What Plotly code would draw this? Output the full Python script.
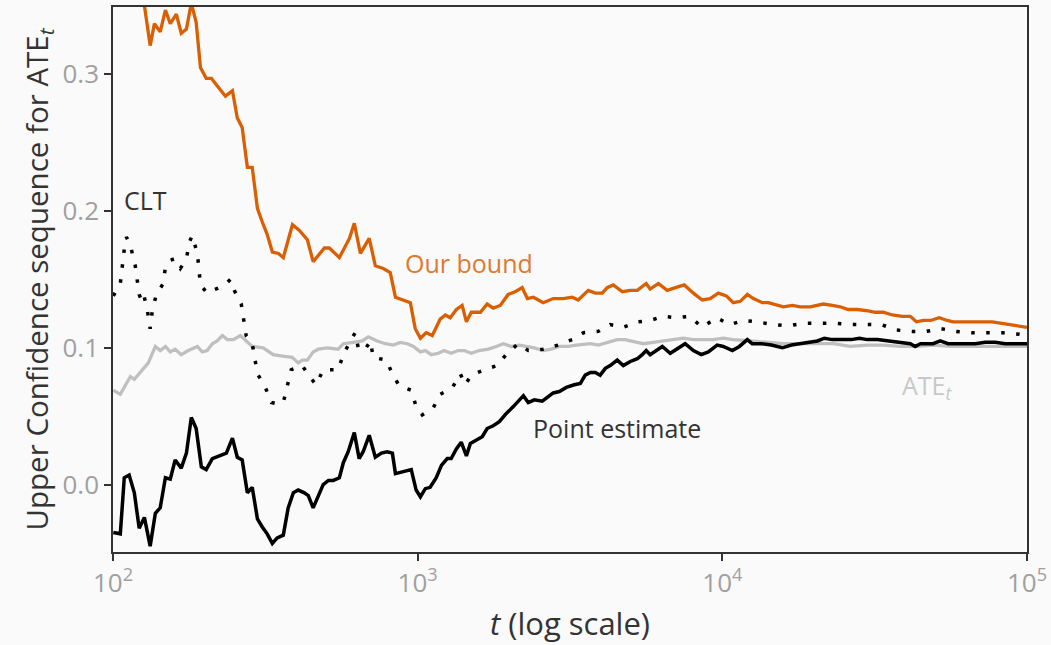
import plotly.graph_objects as go

# ---- data (t on log10 scale, value) ----
bound_log10_t = [2.000, 2.016, 2.033, 2.050, 2.066, 2.083, 2.100, 2.122, 2.136, 2.155, 2.172, 2.188,
                 2.208, 2.224, 2.241, 2.257, 2.273, 2.287, 2.306, 2.323, 2.346, 2.369, 2.392, 2.408,
                 2.424, 2.441, 2.457, 2.474, 2.490, 2.506, 2.523, 2.543, 2.559, 2.589, 2.611, 2.638,
                 2.657, 2.694, 2.710, 2.743, 2.776, 2.792, 2.812, 2.841, 2.861, 2.887, 2.910, 2.927,
                 2.976, 2.992, 3.009, 3.028, 3.048, 3.074, 3.091, 3.107, 3.127, 3.146, 3.160, 3.176,
                 3.206, 3.228, 3.248, 3.271, 3.297, 3.320, 3.343, 3.360, 3.380, 3.412, 3.445, 3.478,
                 3.507, 3.527, 3.560, 3.583, 3.606, 3.622, 3.642, 3.672, 3.698, 3.721, 3.750, 3.763,
                 3.790, 3.819, 3.846, 3.875, 3.905, 3.934, 3.960, 3.987, 4.013, 4.036, 4.059, 4.082,
                 4.102, 4.131, 4.151, 4.167, 4.200, 4.230, 4.256, 4.289, 4.312, 4.331, 4.361, 4.387,
                 4.413, 4.443, 4.479, 4.502, 4.528, 4.558, 4.591, 4.617, 4.637, 4.660, 4.683, 4.712,
                 4.738, 4.758, 4.791, 4.824, 4.856, 4.886, 4.912, 4.945, 4.978, 5.000]
bound_value = [0.440, 0.420, 0.400, 0.410, 0.385, 0.370, 0.355, 0.321, 0.337, 0.331, 0.347, 0.337,
               0.344, 0.330, 0.333, 0.352, 0.338, 0.305, 0.297, 0.297, 0.290, 0.284, 0.288, 0.268,
               0.261, 0.232, 0.232, 0.202, 0.192, 0.183, 0.170, 0.169, 0.166, 0.190, 0.186, 0.179,
               0.163, 0.173, 0.173, 0.166, 0.180, 0.191, 0.169, 0.180, 0.160, 0.158, 0.155, 0.137,
               0.133, 0.114, 0.107, 0.111, 0.109, 0.121, 0.124, 0.122, 0.128, 0.131, 0.119, 0.126,
               0.126, 0.132, 0.129, 0.131, 0.139, 0.141, 0.144, 0.136, 0.137, 0.133, 0.136, 0.136,
               0.137, 0.135, 0.142, 0.140, 0.140, 0.144, 0.146, 0.141, 0.142, 0.142, 0.147, 0.143,
               0.147, 0.142, 0.144, 0.146, 0.140, 0.135, 0.136, 0.140, 0.138, 0.133, 0.134, 0.139,
               0.136, 0.133, 0.133, 0.132, 0.130, 0.131, 0.130, 0.130, 0.131, 0.132, 0.131, 0.130,
               0.128, 0.128, 0.127, 0.126, 0.126, 0.124, 0.123, 0.123, 0.119, 0.120, 0.120, 0.122,
               0.120, 0.119, 0.119, 0.119, 0.119, 0.119, 0.118, 0.117, 0.116, 0.115]

clt_log10_t = [2.001, 2.024, 2.037, 2.044, 2.057, 2.073, 2.086, 2.096, 2.103, 2.113, 2.122, 2.129,
               2.142, 2.165, 2.172, 2.188, 2.201, 2.221, 2.241, 2.250, 2.260, 2.277, 2.287, 2.309,
               2.326, 2.349, 2.372, 2.385, 2.398, 2.421, 2.437, 2.457, 2.474, 2.500, 2.520, 2.539,
               2.559, 2.585, 2.621, 2.648, 2.667, 2.690, 2.739, 2.756, 2.779, 2.795, 2.805, 2.825,
               2.845, 2.854, 2.897, 2.917, 2.940, 2.979, 2.995, 3.015, 3.051, 3.074, 3.114, 3.140,
               3.156, 3.176, 3.219, 3.261, 3.294, 3.330, 3.363, 3.412, 3.461, 3.508, 3.544, 3.593,
               3.632, 3.675, 3.724, 3.763, 3.806, 3.849, 3.892, 3.934, 3.980, 4.026, 4.069, 4.115,
               4.167, 4.216, 4.266, 4.318, 4.367, 4.420, 4.472, 4.522, 4.571, 4.624, 4.669, 4.718,
               4.768, 4.820, 4.869, 4.922, 4.974, 5.000]
clt_value = [0.138, 0.147, 0.172, 0.181, 0.175, 0.160, 0.139, 0.133, 0.137, 0.127, 0.114, 0.127,
             0.139, 0.147, 0.159, 0.164, 0.165, 0.158, 0.165, 0.177, 0.182, 0.169, 0.146, 0.140,
             0.142, 0.144, 0.147, 0.150, 0.142, 0.132, 0.109, 0.103, 0.081, 0.071, 0.060, 0.059,
             0.060, 0.084, 0.087, 0.078, 0.073, 0.084, 0.084, 0.095, 0.105, 0.111, 0.100, 0.098,
             0.105, 0.093, 0.091, 0.081, 0.072, 0.069, 0.057, 0.051, 0.056, 0.066, 0.071, 0.081,
             0.073, 0.080, 0.084, 0.087, 0.096, 0.103, 0.098, 0.099, 0.102, 0.106, 0.111, 0.112,
             0.117, 0.115, 0.119, 0.120, 0.123, 0.122, 0.123, 0.115, 0.122, 0.117, 0.120, 0.119,
             0.117, 0.116, 0.118, 0.118, 0.118, 0.117, 0.117, 0.117, 0.113, 0.112, 0.112, 0.114,
             0.112, 0.111, 0.111, 0.111, 0.110, 0.109]

ate_log10_t = [2.001, 2.024, 2.057, 2.070, 2.116, 2.139, 2.155, 2.172, 2.188, 2.204, 2.224, 2.247,
               2.277, 2.293, 2.309, 2.326, 2.342, 2.359, 2.375, 2.395, 2.418, 2.434, 2.457, 2.493,
               2.526, 2.556, 2.588, 2.608, 2.621, 2.638, 2.657, 2.674, 2.703, 2.739, 2.756, 2.789,
               2.818, 2.838, 2.867, 2.894, 2.920, 2.943, 2.966, 2.986, 3.009, 3.025, 3.045, 3.068,
               3.087, 3.110, 3.133, 3.153, 3.176, 3.202, 3.232, 3.258, 3.281, 3.307, 3.334, 3.356,
               3.383, 3.412, 3.438, 3.465, 3.494, 3.521, 3.567, 3.593, 3.622, 3.655, 3.681, 3.714,
               3.740, 3.773, 3.806, 3.839, 3.872, 3.905, 3.937, 3.970, 4.003, 4.036, 4.092, 4.147,
               4.200, 4.256, 4.312, 4.365, 4.420, 4.476, 4.528, 4.584, 4.640, 4.692, 4.748, 4.804,
               4.856, 4.912, 5.000]
ate_value = [0.069, 0.066, 0.079, 0.077, 0.089, 0.101, 0.098, 0.101, 0.097, 0.099, 0.095, 0.098,
             0.101, 0.097, 0.098, 0.103, 0.105, 0.109, 0.106, 0.106, 0.109, 0.106, 0.101, 0.100,
             0.095, 0.094, 0.093, 0.089, 0.091, 0.091, 0.097, 0.099, 0.100, 0.099, 0.103, 0.104,
             0.105, 0.108, 0.105, 0.103, 0.102, 0.104, 0.103, 0.101, 0.097, 0.098, 0.095, 0.096,
             0.098, 0.096, 0.098, 0.098, 0.096, 0.098, 0.099, 0.101, 0.103, 0.101, 0.102, 0.101,
             0.100, 0.098, 0.099, 0.101, 0.101, 0.102, 0.103, 0.102, 0.104, 0.106, 0.106, 0.104,
             0.103, 0.104, 0.105, 0.106, 0.107, 0.106, 0.106, 0.106, 0.107, 0.106, 0.105, 0.104,
             0.103, 0.103, 0.103, 0.103, 0.101, 0.102, 0.102, 0.101, 0.101, 0.102, 0.101, 0.101,
             0.101, 0.101, 0.101]

point_log10_t = [2.001, 2.024, 2.037, 2.053, 2.070, 2.086, 2.103, 2.122, 2.139, 2.155, 2.172, 2.188,
                 2.204, 2.224, 2.241, 2.257, 2.273, 2.290, 2.306, 2.326, 2.349, 2.372, 2.392, 2.408,
                 2.424, 2.441, 2.457, 2.474, 2.490, 2.506, 2.523, 2.539, 2.559, 2.575, 2.592, 2.608,
                 2.628, 2.641, 2.657, 2.674, 2.690, 2.707, 2.723, 2.743, 2.756, 2.772, 2.792, 2.808,
                 2.821, 2.841, 2.861, 2.881, 2.900, 2.917, 2.927, 2.979, 2.995, 3.009, 3.025, 3.041,
                 3.061, 3.078, 3.097, 3.110, 3.127, 3.143, 3.160, 3.173, 3.196, 3.212, 3.228, 3.248,
                 3.268, 3.291, 3.314, 3.330, 3.347, 3.363, 3.383, 3.409, 3.429, 3.445, 3.465, 3.488,
                 3.514, 3.534, 3.550, 3.567, 3.583, 3.599, 3.616, 3.632, 3.655, 3.675, 3.698, 3.721,
                 3.737, 3.750, 3.763, 3.783, 3.803, 3.829, 3.852, 3.878, 3.905, 3.931, 3.954, 3.983,
                 4.003, 4.033, 4.056, 4.082, 4.098, 4.128, 4.161, 4.177, 4.197, 4.227, 4.253, 4.285,
                 4.312, 4.335, 4.361, 4.394, 4.423, 4.450, 4.476, 4.509, 4.545, 4.587, 4.617, 4.633,
                 4.650, 4.669, 4.692, 4.715, 4.741, 4.768, 4.797, 4.830, 4.863, 4.896, 4.928, 4.961,
                 5.000]
point_value = [-0.035, -0.036, 0.005, 0.007, -0.006, -0.032, -0.024, -0.045, -0.021, -0.017, 0.005, 0.004,
               0.018, 0.012, 0.023, 0.049, 0.041, 0.013, 0.011, 0.019, 0.021, 0.023, 0.034, 0.020,
               0.018, -0.006, -0.002, -0.025, -0.031, -0.036, -0.043, -0.039, -0.037, -0.017, -0.006, -0.004,
               -0.006, -0.008, -0.017, -0.009, 0.000, 0.003, 0.003, 0.005, 0.016, 0.024, 0.038, 0.019,
               0.024, 0.036, 0.020, 0.023, 0.024, 0.023, 0.008, 0.011, -0.004, -0.009, -0.003, -0.002,
               0.005, 0.014, 0.019, 0.019, 0.026, 0.031, 0.021, 0.030, 0.033, 0.035, 0.041, 0.043,
               0.046, 0.052, 0.057, 0.061, 0.065, 0.060, 0.062, 0.061, 0.064, 0.067, 0.068, 0.071,
               0.073, 0.074, 0.080, 0.082, 0.082, 0.080, 0.085, 0.087, 0.091, 0.087, 0.090, 0.092,
               0.095, 0.098, 0.095, 0.098, 0.101, 0.096, 0.099, 0.103, 0.098, 0.095, 0.097, 0.102,
               0.101, 0.098, 0.101, 0.106, 0.103, 0.103, 0.102, 0.101, 0.100, 0.102, 0.103, 0.104,
               0.105, 0.107, 0.106, 0.106, 0.106, 0.107, 0.106, 0.106, 0.105, 0.104, 0.103, 0.101,
               0.103, 0.103, 0.103, 0.105, 0.103, 0.103, 0.103, 0.103, 0.104, 0.104, 0.103, 0.103,
               0.103]

x_tick_values = [100, 1000, 10000, 100000]
x_tick_labels = ["10<sup>2</sup>", "10<sup>3</sup>", "10<sup>4</sup>", "10<sup>5</sup>"]
y_tick_values = [0.0, 0.1, 0.2, 0.3]
y_tick_labels = ["0.0", "0.1", "0.2", "0.3"]

ORANGE = "#d95f02"
GREY = "#bfbfbf"
BG = "#fafafa"
FONT = "Open Sans"


def to_t(log_list):
    return [10 ** v for v in log_list]


fig = go.Figure()
fig.add_trace(go.Scatter(x=to_t(ate_log10_t), y=ate_value, mode="lines",
                         line=dict(color=GREY, width=3.3), name="ATE_t"))
fig.add_trace(go.Scatter(x=to_t(point_log10_t), y=point_value, mode="lines",
                         line=dict(color="#000000", width=3.5), name="Point estimate"))
fig.add_trace(go.Scatter(x=to_t(clt_log10_t), y=clt_value, mode="lines",
                         line=dict(color="#000000", width=3.5, dash="3.5px,11.5px"), name="CLT"))
fig.add_trace(go.Scatter(x=to_t(bound_log10_t), y=bound_value, mode="lines",
                         line=dict(color=ORANGE, width=3.3), name="Our bound"))

ann_font = dict(family=FONT, size=25)
fig.add_annotation(x=2.106, y=0.208, text="CLT", showarrow=False,
                   font=dict(ann_font, color="#333333"))
fig.add_annotation(x=3.169, y=0.162, text="Our bound", showarrow=False,
                   font=dict(ann_font, color="#e0782e"))
fig.add_annotation(x=3.655, y=0.0412, text="Point estimate", showarrow=False,
                   font=dict(ann_font, color="#333333"))
fig.add_annotation(x=4.673, y=0.072, text="ATE<sub><i>t</i></sub>", showarrow=False,
                   font=dict(ann_font, color="#c8c8c8"))

axis_common = dict(showline=True, mirror=True, linecolor="#333333", linewidth=1.6,
                   ticks="outside", ticklen=7, tickwidth=1.6, tickcolor="#333333",
                   showgrid=False, zeroline=False, automargin=False,
                   tickfont=dict(family=FONT, size=26, color="#a0a0a0"))

fig.update_layout(
    width=1051, height=645,
    margin=dict(l=112.7, r=24.2, t=7.3, b=93.3),
    paper_bgcolor=BG, plot_bgcolor=BG,
    showlegend=False,
    font=dict(family=FONT),
    xaxis=dict(axis_common, type="log", range=[2, 5],
               tickvals=x_tick_values, ticktext=x_tick_labels,
               title=dict(text="<i>t</i> (log scale)", standoff=14,
                          font=dict(family=FONT, size=31, color="#333333"))),
    yaxis=dict(axis_common, range=[-0.0493, 0.3492],
               tickvals=y_tick_values, ticktext=y_tick_labels,
               title=dict(text="Upper Confidence sequence for ATE<sub><i>t</i></sub>", standoff=5,
                          font=dict(family=FONT, size=29.5, color="#333333"))),
)

fig.write_html(
    "out.html",
    config={"displayModeBar": False},
    post_script="document.body.style.margin='0';document.body.style.background='%s';" % BG,
)
